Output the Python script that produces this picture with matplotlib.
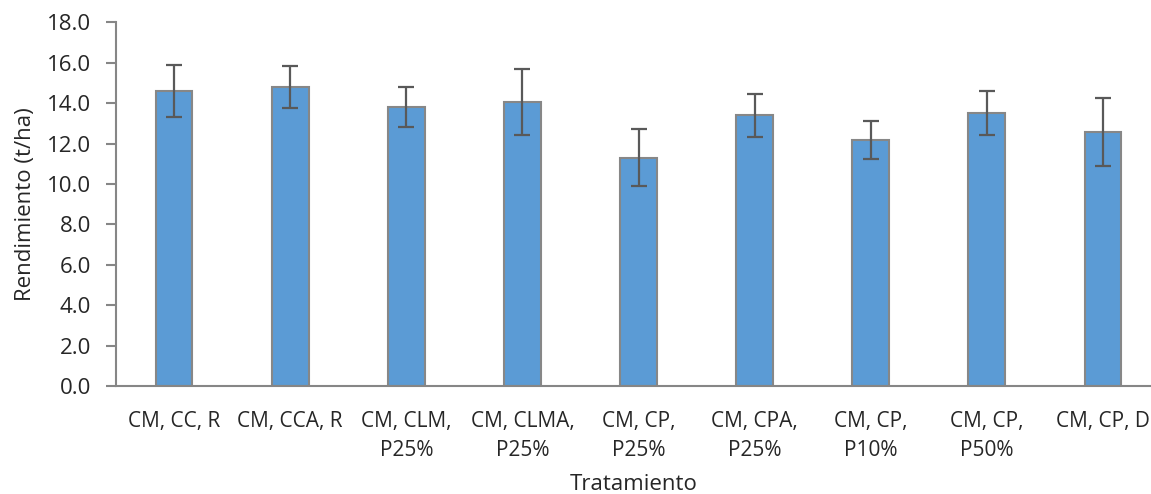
import matplotlib.pyplot as plt
import numpy as np

plt.rcParams['font.family'] = ['Open Sans', 'DejaVu Sans']

# Datos
tratamientos = ["CM, CC, R", "CM, CCA, R", "CM, CLM,\nP25%", "CM, CLMA,\nP25%",
                "CM, CP,\nP25%", "CM, CPA,\nP25%", "CM, CP,\nP10%", "CM, CP,\nP50%",
                "CM, CP, D"]
rendimiento = [14.6, 14.8, 13.8, 14.05, 11.3, 13.4, 12.17, 13.5, 12.56]
error = [1.3, 1.02, 1.0, 1.65, 1.42, 1.07, 0.94, 1.1, 1.68]

fig = plt.figure(figsize=(11.51, 4.94), dpi=100)
ax = fig.add_axes([116 / 1151, 0.218, 1045 / 1151, 0.737])

x = np.arange(len(tratamientos))
ax.bar(x, rendimiento, width=0.316, color="#5B9BD5", edgecolor="#878787", linewidth=1.5,
       yerr=error, ecolor="#595959",
       error_kw=dict(elinewidth=1.6, capsize=6, capthick=1.6))

ax.set_xlim(-0.5, 8.5)
ax.set_ylim(0, 18)
ax.set_yticks(np.arange(0, 18.1, 2))
ax.set_yticklabels([f"{v:.1f}" for v in np.arange(0, 18.1, 2)])
ax.set_xticks(x)
ax.set_xticklabels(tratamientos, linespacing=1.45)

for lado in ["top", "right"]:
    ax.spines[lado].set_visible(False)
for lado in ["left", "bottom"]:
    ax.spines[lado].set_color("#868686")
    ax.spines[lado].set_linewidth(1.5)

ax.tick_params(axis="y", length=7, width=1.5, color="#868686", labelsize=16,
               labelcolor="#262626", pad=11)
ax.tick_params(axis="x", length=0, labelsize=15, labelcolor="#262626", pad=18)

ax.set_xlabel("Tratamiento", fontsize=16, color="#262626", va="baseline")
ax.xaxis.set_label_coords(0.495, -0.285)
ax.set_ylabel("Rendimiento (t/ha)", fontsize=16, color="#262626", labelpad=8)

fig.savefig("out.png", dpi=100)
